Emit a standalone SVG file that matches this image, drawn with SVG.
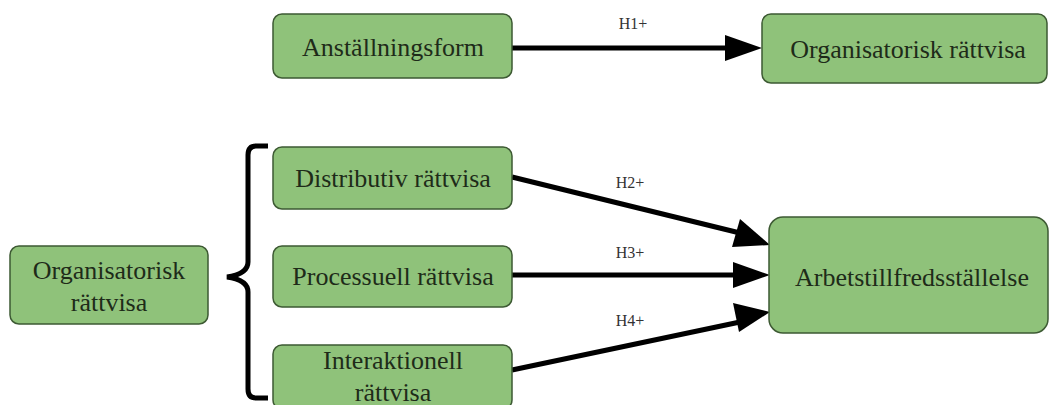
<svg xmlns="http://www.w3.org/2000/svg" width="1051" height="405" viewBox="0 0 1051 405">
<defs>
<style>
.box{fill:#8fc27a;stroke:#3d5a33;stroke-width:1.5}
.t{font-family:'Liberation Serif','Times New Roman',serif;font-size:26px;fill:#1e2b19;text-anchor:middle}
.lbl{font-family:'Liberation Serif','Times New Roman',serif;font-size:16px;fill:#333;text-anchor:middle}
.edge{stroke:#000;stroke-width:5;fill:none}
.head{fill:#000}
</style>
</defs>
<rect width="1051" height="405" fill="#fff"/>
<g id="connectors">
<line class="edge" x1="512" y1="48" x2="730" y2="48"/>
<polygon class="head" points="762,48 725,35 725,61"/>
<line class="edge" x1="512" y1="177" x2="740" y2="233"/>
<polygon class="head" points="770,245 740,219 732,247"/>
<line class="edge" x1="512" y1="275" x2="738" y2="275"/>
<polygon class="head" points="770,275 733,262 733,288"/>
<line class="edge" x1="512" y1="370" x2="740" y2="322"/>
<polygon class="head" points="770,312 733,303 739,332"/>
<text class="lbl" x="633" y="29">H1+</text>
<text class="lbl" x="630" y="188">H2+</text>
<text class="lbl" x="630" y="258">H3+</text>
<text class="lbl" x="630" y="326">H4+</text>
</g>
<g id="brace">
<path d="M268,146 L256,146 Q248,146 248,155 L248,262 Q248,274 227,277 Q248,280 248,292 L248,389 Q248,398 256,398 L268,398" fill="none" stroke="#000" stroke-width="5"/>
</g>
<g id="n-anstallningsform">
<rect class="box" x="273" y="14" width="239" height="64" rx="9"/>
<text class="t" x="393" y="56">Anställningsform</text>
</g>
<g id="n-org-top">
<rect class="box" x="762" y="14" width="285" height="69" rx="9"/>
<text class="t" x="908" y="58">Organisatorisk rättvisa</text>
</g>
<g id="n-distributiv">
<rect class="box" x="273" y="147" width="239" height="62" rx="9"/>
<text class="t" x="393" y="187">Distributiv rättvisa</text>
</g>
<g id="n-processuell">
<rect class="box" x="273" y="246" width="239" height="61" rx="9"/>
<text class="t" x="393" y="285">Processuell rättvisa</text>
</g>
<g id="n-interaktionell">
<rect class="box" x="273" y="345" width="239" height="64" rx="9"/>
<text class="t" x="393" y="369">Interaktionell</text>
<text class="t" x="393" y="401">rättvisa</text>
</g>
<g id="n-org-left">
<rect class="box" x="10" y="246" width="198" height="78" rx="9"/>
<text class="t" x="109" y="279">Organisatorisk</text>
<text class="t" x="109" y="311">rättvisa</text>
</g>
<g id="n-arbets">
<rect class="box" x="769" y="217" width="279" height="116" rx="14"/>
<text class="t" x="912" y="286">Arbetstillfredsställelse</text>
</g>
</svg>
